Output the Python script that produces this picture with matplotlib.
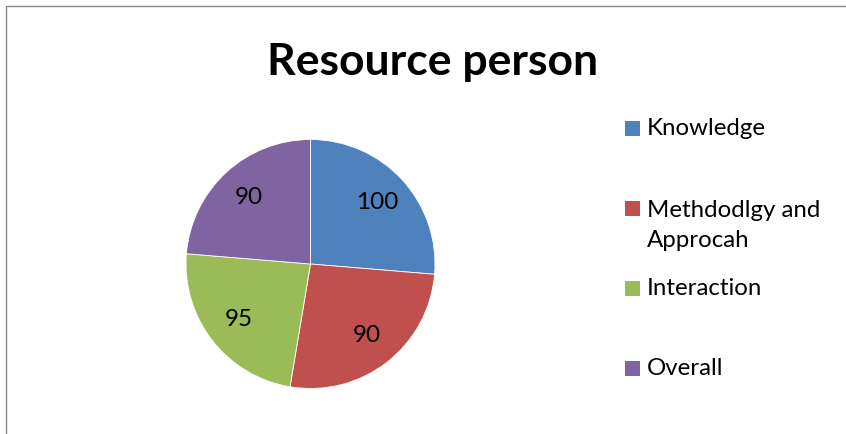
import matplotlib.pyplot as plt
from matplotlib.patches import Rectangle

# Datos del grafico (tamaño de los sectores, etiquetas tal como aparecen)
categorias = ["Knowledge", "Methdodlgy and\nApprocah", "Interaction", "Overall"]
valores = [100, 100, 90, 90]
etiquetas = ["100", "90", "95", "90"]
colores = ["#4F81BD", "#C0504D", "#9BBB59", "#8064A2"]

W, H = 846, 434
plt.rcParams['font.family'] = ['Lato', 'DejaVu Sans']

fig = plt.figure(figsize=(W / 100, H / 100), dpi=100)
fig.patch.set_facecolor("white")

# Borde del area del grafico
fig.patches.append(Rectangle((6 / W, -0.1), 1.2, 1 - 6 / H + 0.1, transform=fig.transFigure,
                             fill=False, edgecolor="#868686", linewidth=1.0))

# Titulo
fig.text(433 / W, 1 - 75 / H, "Resource person", ha="center", va="baseline",
         fontsize=32, fontweight="bold", color="black")

# Tarta
cx, cy, r = 310.5, 264, 124.5
ax = fig.add_axes([(cx - r) / W, 1 - (cy + r) / H, 2 * r / W, 2 * r / H])
wedges, textos = ax.pie(valores, colors=colores, startangle=90, counterclock=False,
                        labels=etiquetas, labeldistance=0.73,
                        wedgeprops=dict(edgecolor="white", linewidth=0.6),
                        textprops=dict(fontsize=17.5, ha="center", va="center"))
ax.set_xlim(-1, 1)
ax.set_ylim(-1, 1)
ax.set_aspect("equal")

# Leyenda manual (estilo Excel)
ys = [128.5, 208.5, 288.5, 368.5]
for w, lab, y in zip(wedges, categorias, ys):
    fig.patches.append(Rectangle((625 / W, 1 - (y + 7.5) / H), 15 / W, 15 / H,
                                 transform=fig.transFigure, facecolor=w.get_facecolor(),
                                 edgecolor="none"))
    if "\n" in lab:
        fig.text(647 / W, 1 - (y - 9) / H, lab, ha="left", va="top",
                 fontsize=17.3, linespacing=1.55, color="black")
    else:
        fig.text(647 / W, 1 - y / H, lab, ha="left", va="center",
                 fontsize=17.3, color="black")

fig.savefig("out.png", dpi=100)
